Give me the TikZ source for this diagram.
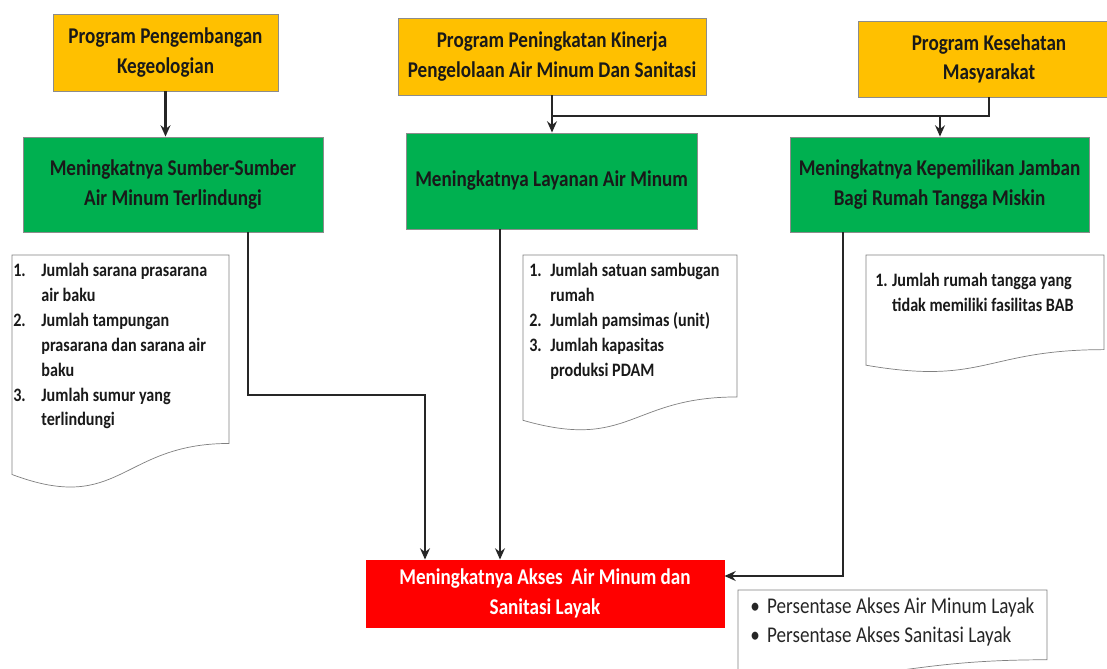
\documentclass[tikz,border=0pt]{standalone}
\usepackage{fontspec}
\setmainfont{Carlito}[FakeStretch=0.85]
\usetikzlibrary{arrows.meta,positioning}

\definecolor{kuning}{HTML}{FFC000}
\definecolor{hijau}{HTML}{00B050}
\definecolor{merah}{HTML}{FF0000}

% number of a list item, and the indent of its follow-up lines
\newcommand{\no}[2][20pt]{\makebox[#1][l]{#2}}
\newcommand{\sisip}[1][20pt]{\hspace*{#1}}
% paper sheet with a wavy foot: x0, y0, x1, y1
\newcommand{\kertas}[4]{%
  \draw[lembar] (#1,#2) -- (#3,#2) -- (#3,{#2+0.802*(#4-#2)})
    .. controls ({(#1+#3)/2},{#2+0.802*(#4-#2)}) and ({(#1+#3)/2},{#2+1.1075*(#4-#2)})
    .. (#1,{#2+0.934*(#4-#2)}) -- cycle;}

\begin{document}
\begin{tikzpicture}[x=0.025cm, y=-0.025cm, >={Stealth[length=8pt,width=7pt]}]
\tikzset{
  ukuran/.style 2 args={minimum width=#1*0.025cm, minimum height=#2*0.025cm},
  kotak/.style={rectangle, draw=black!45, line width=0.6pt, align=center, inner sep=0pt,
    font=\fontsize{16}{21}\selectfont\bfseries},
  prog/.style={kotak, fill=kuning, text=black!90},
  hasil/.style={kotak, fill=hijau, text=black!90},
  dampak/.style={kotak, fill=merah, draw=merah, text=white},
  isi/.style={anchor=north west, align=left, inner sep=0pt, text=black!90,
    font=\fontsize{13.5}{17.7}\selectfont\bfseries},
  butir/.style={anchor=north west, align=left, inner sep=0pt, text=black!85,
    font=\fontsize{16}{20.6}\selectfont},
  lembar/.style={draw=black!50, line width=0.5pt, fill=white},
  garis/.style={draw=black!85, line width=1.8pt},
  panah/.style={garis, ->}
}
\fill[white] (0,0) rectangle (1107,669);
\useasboundingbox (0,0) rectangle (1107,669);
% ---------- programs ----------
\node[prog, ukuran={225}{77}] (p1) at (165.5,52.5) {Program Pengembangan\\Kegeologian};
\node[prog, ukuran={308}{77}] (p2) at (552,56.5) {Program Peningkatan Kinerja\\Pengelolaan Air Minum Dan Sanitasi};
\node[prog, ukuran={262}{76}] (p3) at (989,59) {Program Kesehatan\\Masyarakat};
% ---------- outcomes ----------
\node[hasil, ukuran={300}{95}] (h1) at (173,184.5) {Meningkatnya Sumber-Sumber\\Air Minum Terlindungi};
\node[hasil, ukuran={291}{96}] (h2) at (551.5,181) {Meningkatnya Layanan Air Minum};
\node[hasil, ukuran={299}{95}] (h3) at (939.5,184.5) {Meningkatnya Kepemilikan Jamban\\Bagi Rumah Tangga Miskin};
% ---------- indicators ----------
\kertas{12}{255}{229}{490}
\node[isi] (k1) at (13,263) {\no{1.}Jumlah sarana prasarana\\ \sisip air baku\\
  \no{2.}Jumlah tampungan\\ \sisip prasarana dan sarana air\\ \sisip baku\\
  \no{3.}Jumlah sumur yang\\ \sisip terlindungi};
\kertas{523}{255}{737}{432}
\node[isi] (k2) at (529,263) {\no[15pt]{1.}Jumlah satuan sambugan\\ \sisip[15pt]rumah\\
  \no[15pt]{2.}Jumlah pamsimas (unit)\\ \no[15pt]{3.}Jumlah kapasitas\\ \sisip[15pt]produksi PDAM};
\kertas{866}{255}{1104}{373}
\node[isi] (k3) at (875,273) {\no[12pt]{1.}Jumlah rumah tangga yang\\ \sisip[12pt]tidak memiliki fasilitas BAB};
% ---------- impact ----------
\node[dampak, ukuran={358}{67}] (d) at (545,593.5) {Meningkatnya Akses\ \ Air Minum dan\\Sanitasi Layak};
\kertas{738}{590}{1047}{677}
\node[butir] (b) at (750,598) {\no[12pt]{\textbullet}Persentase Akses Air Minum Layak\\
  \no[12pt]{\textbullet}Persentase Akses Sanitasi Layak};
% ---------- connectors ----------
\coordinate (j2) at (552,116);
\coordinate (j3) at (940,116);
\coordinate (b1) at (248,395);
\coordinate (b2) at (425,395);
\coordinate (c2) at (500,300);
\coordinate (c3) at (843,576);
\draw[panah] (p1.south) -- (p1.south |- h1.north);
\draw[panah] (p2.south) -- (p2.south |- h2.north);
\draw[garis] (p3.south) |- (j2);
\draw[panah] (j3) -- (j3 |- h3.north);
\draw[panah] (h1.south -| b1) -- (b1) -- (b2) -- (b2 |- d.north);
\draw[panah] (h2.south -| c2) -- (c2 |- d.north);
\draw[panah] (h3.south -| c3) -- (c3) -- (c3 -| d.east);
\end{tikzpicture}
\end{document}
